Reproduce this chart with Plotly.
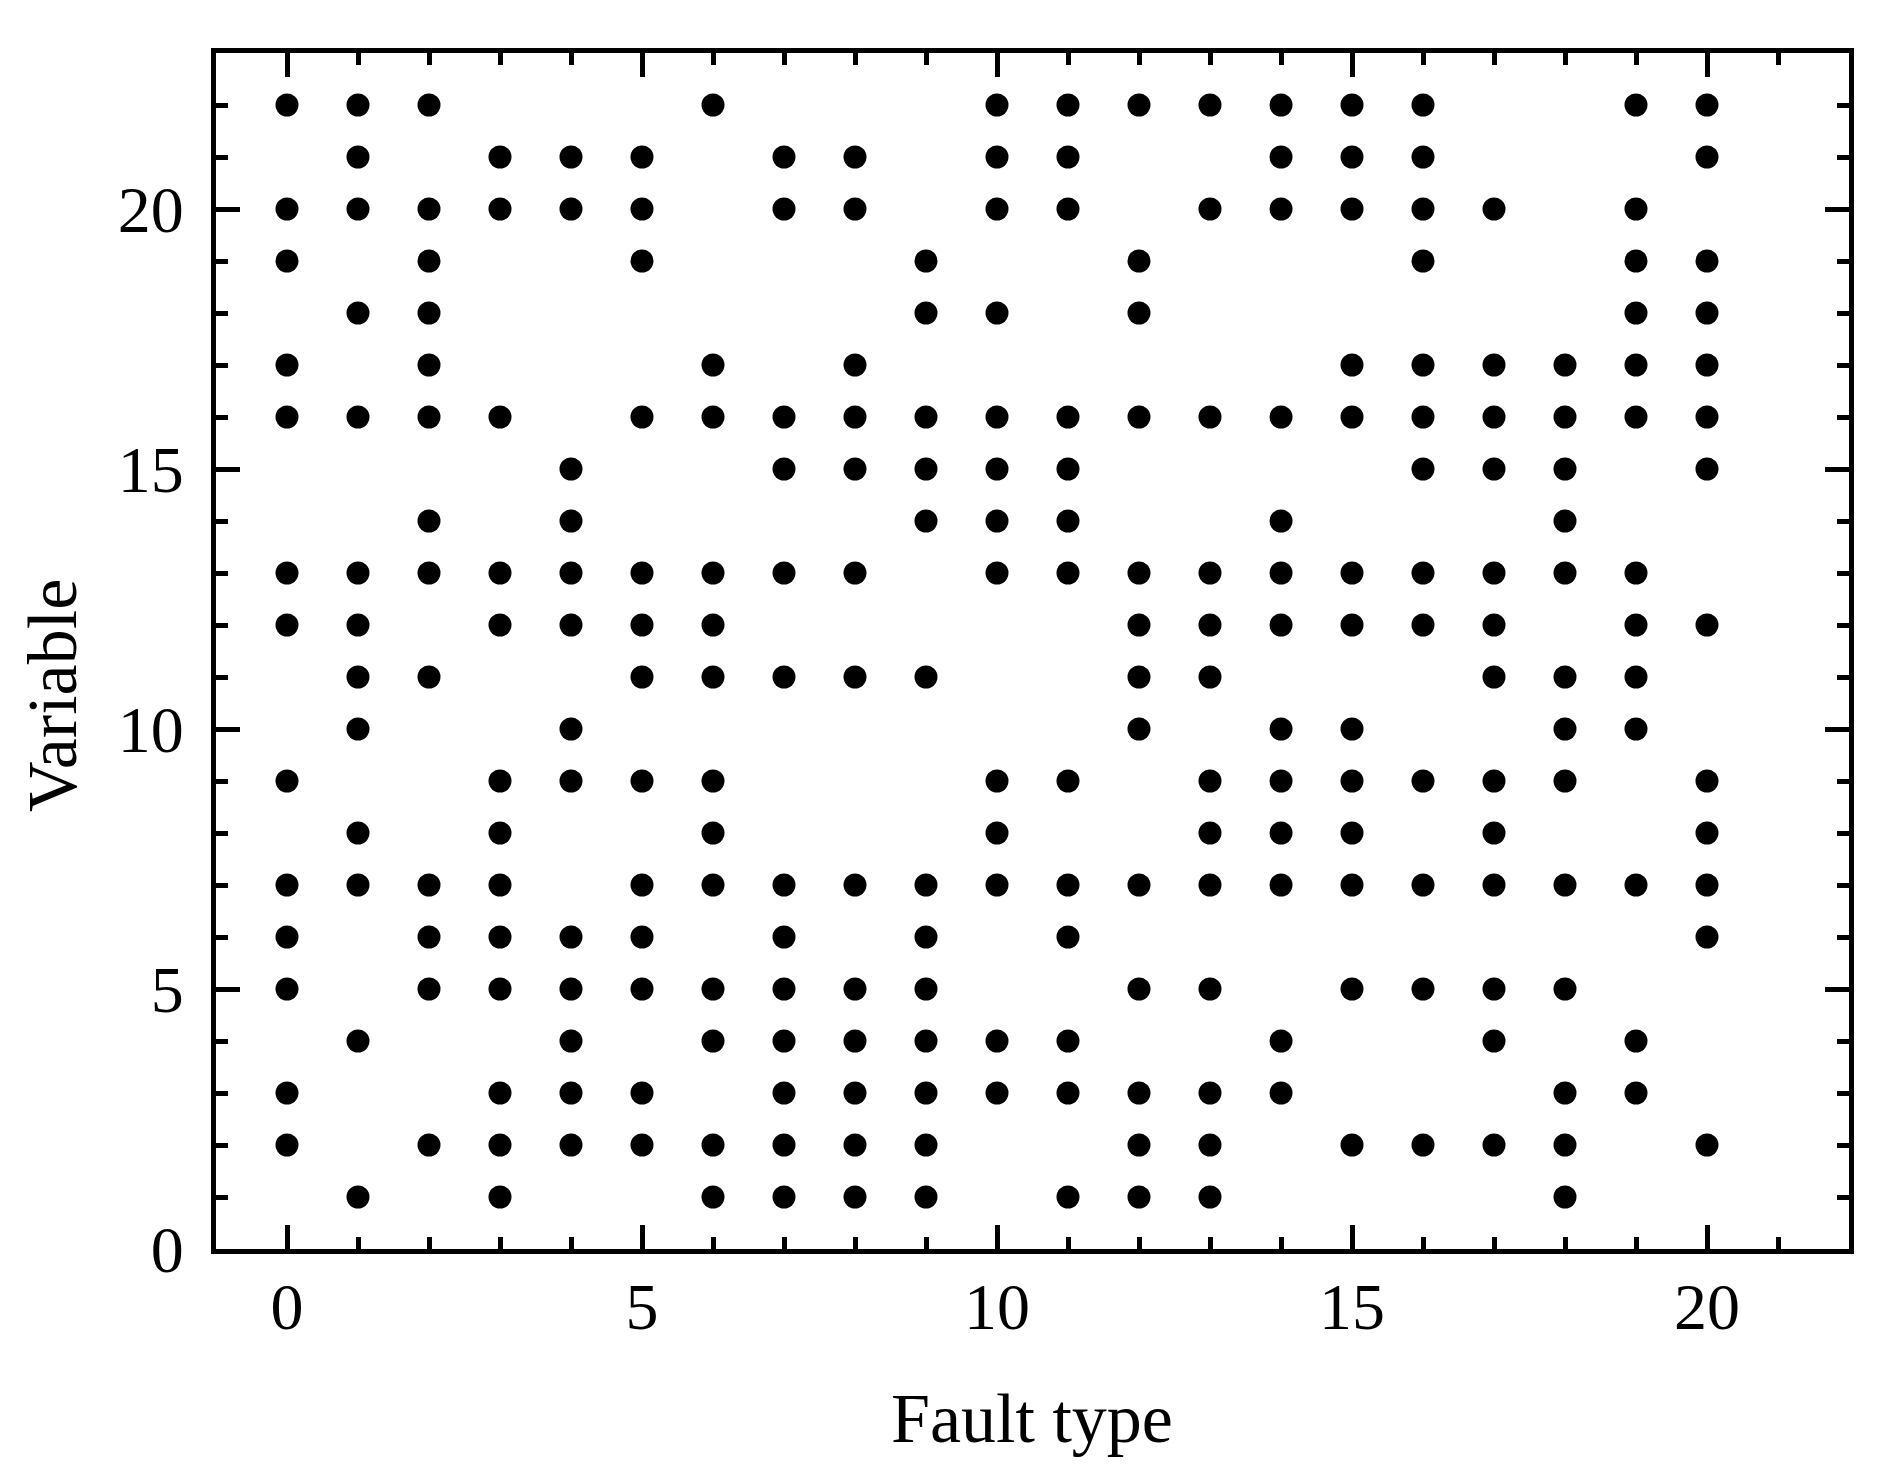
import plotly.graph_objects as go

# variables flagged for each fault type (fault type = list index)
fault_types = list(range(21))
variables = [
    [22, 20, 19, 17, 16, 13, 12, 9, 7, 6, 5, 3, 2],
    [22, 21, 20, 18, 16, 13, 12, 11, 10, 8, 7, 4, 1],
    [22, 20, 19, 18, 17, 16, 14, 13, 11, 7, 6, 5, 2],
    [21, 20, 16, 13, 12, 9, 8, 7, 6, 5, 3, 2, 1],
    [21, 20, 15, 14, 13, 12, 10, 9, 6, 5, 4, 3, 2],
    [21, 20, 19, 16, 13, 12, 11, 9, 7, 6, 5, 3, 2],
    [22, 17, 16, 13, 12, 11, 9, 8, 7, 5, 4, 2, 1],
    [21, 20, 16, 15, 13, 11, 7, 6, 5, 4, 3, 2, 1],
    [21, 20, 17, 16, 15, 13, 11, 7, 5, 4, 3, 2, 1],
    [19, 18, 16, 15, 14, 11, 7, 6, 5, 4, 3, 2, 1],
    [22, 21, 20, 18, 16, 15, 14, 13, 9, 8, 7, 4, 3],
    [22, 21, 20, 16, 15, 14, 13, 9, 7, 6, 4, 3, 1],
    [22, 19, 18, 16, 13, 12, 11, 10, 7, 5, 3, 2, 1],
    [22, 20, 16, 13, 12, 11, 9, 8, 7, 5, 3, 2, 1],
    [22, 21, 20, 16, 14, 13, 12, 10, 9, 8, 7, 4, 3],
    [22, 21, 20, 17, 16, 13, 12, 10, 9, 8, 7, 5, 2],
    [22, 21, 20, 19, 17, 16, 15, 13, 12, 9, 7, 5, 2],
    [20, 17, 16, 15, 13, 12, 11, 9, 8, 7, 5, 4, 2],
    [17, 16, 15, 14, 13, 11, 10, 9, 7, 5, 3, 2, 1],
    [22, 20, 19, 18, 17, 16, 13, 12, 11, 10, 7, 4, 3],
    [22, 21, 19, 18, 17, 16, 15, 12, 9, 8, 7, 6, 2],
]

xs, ys = [], []
for f, vs in zip(fault_types, variables):
    for v in vs:
        xs.append(f)
        ys.append(v)

fig = go.Figure(go.Scatter(
    x=xs, y=ys, mode="markers",
    marker=dict(color="black", size=23, line=dict(width=0)),
    showlegend=False,
))

serif = "Liberation Serif, Times New Roman, serif"
tick_font = dict(family=serif, size=66, color="black")
title_font = dict(family=serif, size=70, color="black")
axis_common = dict(
    showline=True, linewidth=5, linecolor="black", mirror="ticks",
    ticks="inside", ticklen=24, tickwidth=5, tickcolor="black",
    showgrid=False, zeroline=False, dtick=5, tick0=0,
    tickfont=tick_font,
    minor=dict(ticks="inside", ticklen=12, tickwidth=5, tickcolor="black", dtick=1, showgrid=False),
)

# page body has an 8px margin, so size the figure to fit the window
W, H = 1868, 1457
l, r, t, b = 208, 27, 45, 216
pw, ph = W - l - r, H - t - b


def px_x(p):
    return (p - 8 - l) / pw


def px_y(p):
    return (H - b - (p - 8)) / ph


fig.update_layout(
    width=W, height=H,
    margin=dict(l=l, r=r, t=t, b=b),
    paper_bgcolor="white", plot_bgcolor="white",
    font=tick_font,
    xaxis=dict(range=[-1, 22], ticklabelstandoff=-4, **axis_common),
    yaxis=dict(range=[0, 23], ticklabelstandoff=14, **axis_common),
    annotations=[
        dict(text="Fault type", x=px_x(1032), y=px_y(1418), xref="paper", yref="paper",
             xanchor="center", yanchor="middle", showarrow=False, font=title_font),
        dict(text="Variable", textangle=-90, x=px_x(52), y=px_y(696), xref="paper", yref="paper",
             xanchor="center", yanchor="middle", showarrow=False, font=title_font),
    ],
)

fig.write_html("out.html")
